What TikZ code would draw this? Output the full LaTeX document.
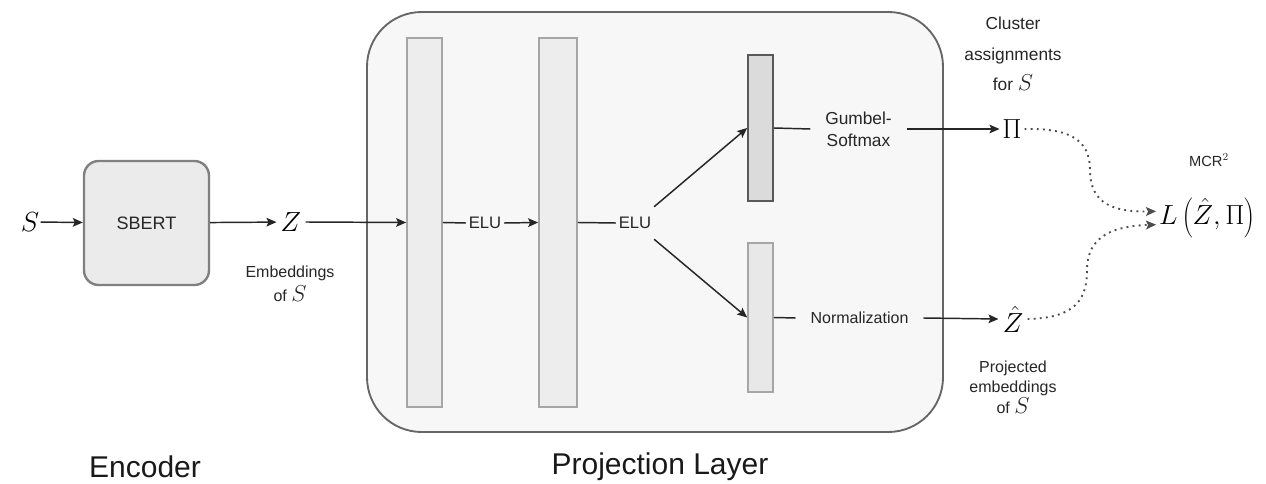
\documentclass[tikz,border=0pt]{standalone}
\usepackage{fontspec}
\setmainfont{Liberation Sans}
\usetikzlibrary{arrows.meta,calc}
\newcommand{\mS}{{\fontsize{16pt}{16pt}\selectfont$S$}}
\begin{document}
\begin{tikzpicture}[x=0.75pt,y=-0.75pt,
  tip/.style={-{Stealth[length=7.5pt,width=6.5pt,inset=1.5pt]}},
  arr/.style={tip, line width=1.1pt, draw=black!85},
  ln/.style={line width=1.1pt, draw=black!85},
  bar/.style={draw=black!35, fill=black!7, line width=1.3pt, inner sep=0pt},
  lbl/.style={font=\fontsize{12pt}{18pt}\selectfont, align=center, text=black!85},
  op/.style={font=\fontsize{12.5pt}{16pt}\selectfont, align=center, text=black!85, inner ysep=2pt},
  mth/.style={font=\fontsize{21pt}{25pt}\selectfont, inner sep=3pt},
  big/.style={font=\fontsize{22.5pt}{27pt}\selectfont, text=black!90},
  dots/.style={tip, dash pattern=on 1.4pt off 3.2pt, line width=1.4pt, draw=black!70},
]
\useasboundingbox (0,0) rectangle (1266,484);

% projection layer container
\node[draw=black!60, fill=black!3, line width=1.4pt, rounded corners=41pt,
      minimum width=432pt, minimum height=315pt, inner sep=0pt] (proj) at (655,222) {};

% encoder
\node[draw=black!50, fill=black!8, line width=1.8pt, rounded corners=11pt,
      minimum width=93.75pt, minimum height=93pt,
      font=\fontsize{13.5pt}{16pt}\selectfont, text=black!85] (sbert) at (146.5,223) {SBERT};

% bars
\node[bar, minimum width=26.25pt, minimum height=276.75pt] (b1) at (424.5,222.5) {};
\node[bar, minimum width=28.5pt, minimum height=276.75pt] (b2) at (558,222.5) {};
\node[bar, draw=black!65, fill=black!14, minimum width=18.75pt, minimum height=109.5pt] (b3) at (760.5,128) {};
\node[bar, fill=black!9, minimum width=18.75pt, minimum height=111.75pt] (b4) at (760.5,317.5) {};

% math nodes
\node[mth, inner sep=1pt] (S) at (30,222) {$S$};
\node[mth] (Z) at (291,222) {$Z$};
\node[mth, font=\fontsize{21pt}{25pt}\selectfont, inner sep=2pt] (Pi) at (1012,129) {$\Pi$};
\node[mth] (Zh) at (1013,319) {$\hat{Z}$};
\node[font=\fontsize{20pt}{24pt}\selectfont, inner sep=2pt] (L) at (1207,218) {$L\left(\hat{Z},\Pi\right)$};

% operation labels
\node[op, minimum height=24pt, inner xsep=2pt] (elu1) at (485,223) {ELU};
\node[op, minimum height=24pt, inner xsep=2pt] (elu2) at (635,223) {ELU};
\node[op, font=\fontsize{13pt}{16.5pt}\selectfont, inner xsep=11pt] (gumbel) at (858.5,129) {Gumbel-\\Softmax};
\node[lbl, inner xsep=11pt] (norm) at (859.5,318) {Normalization};

% descriptive labels
\node[lbl, font=\fontsize{12pt}{18pt}\selectfont] (embS) at (290,284) {Embeddings\\of \mS};
\node[lbl, font=\fontsize{13pt}{23pt}\selectfont] (clus) at (1013,54) {Cluster\\assignments\\for \mS};
\node[lbl, font=\fontsize{12pt}{15.5pt}\selectfont] (projS) at (1013,387) {Projected\\embeddings\\of \mS};
\node[lbl, font=\fontsize{11pt}{12pt}\selectfont] (mcr) at (1209,160) {MCR$^2$};
\node[big] (enc) at (145,467) {Encoder};
\node[big] (pl) at (660,467) {Projection Layer};

% connectors
\draw[arr] (S) -- (sbert);
\draw[arr] (sbert) -- (Z);
\draw[arr] (Z.east) -- (b1.west);
\draw[ln] (b1.east) -- (elu1.west);
\draw[arr] (elu1.east) -- (b2.west);
\draw[ln] (b2.east) -- (elu2.west);
\draw[arr] (elu2.north east) -- (b3.west);
\draw[arr] (elu2.south east) -- (b4.west);
\draw[ln] (b3.east) -- (gumbel.west);
\draw[arr] (gumbel.east) -- (Pi.west);
\draw[ln] (b4.east) -- (norm.west);
\draw[arr] (norm.east) -- (Zh.west);

\draw[dots] (Pi.east) .. controls (1070,128) and (1090,140) .. (1090,170)
  .. controls (1090,205) and (1115,212) .. ([yshift=5pt]L.west);
\draw[dots] (Zh.east) .. controls (1075,318) and (1087,300) .. (1087,270)
  .. controls (1087,235) and (1115,226) .. ([yshift=-5pt]L.west);
\end{tikzpicture}
\end{document}
